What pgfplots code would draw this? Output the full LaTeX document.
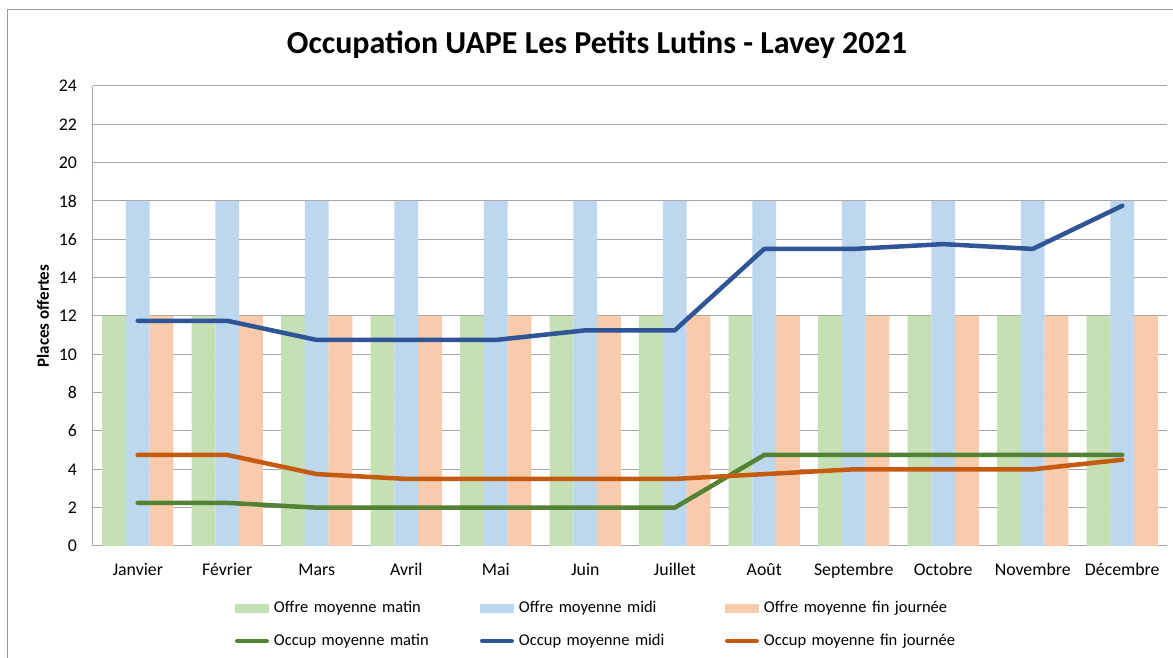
\documentclass[border=0pt]{standalone}
\usepackage{pgfplots}
\pgfplotsset{compat=1.18}
\usepackage{fontspec}
\setmainfont{Carlito}
\definecolor{OffMatin}{HTML}{C5E0B4}
\definecolor{OffMidi}{HTML}{BDD7EE}
\definecolor{OffFin}{HTML}{F8CBAD}
\definecolor{OccMatin}{HTML}{548235}
\definecolor{OccMidi}{HTML}{2F5597}
\definecolor{OccFin}{HTML}{C55A11}
\definecolor{GridGray}{HTML}{A6A6A6}
\definecolor{FrameGray}{HTML}{9A9A9A}
\pgfplotsset{
  barleg/.style={legend image code/.code={\path[##1] (0pt,-4.5pt) rectangle (34pt,4.5pt);}},
  lineleg/.style={legend image code/.code={\draw[##1] (2.25pt,0pt) -- (31.75pt,0pt);}},
  offre/.style={ybar, bar width=0.265, bar shift=#1, draw=none, barleg},
  occup/.style={line width=4.5pt, line cap=round, line join=round, mark=none, lineleg},
}

\begin{document}
\begin{tikzpicture}
  \useasboundingbox (-93pt,-112pt) rectangle (1080pt,546pt);
  \fill[white] (-93pt,-112pt) rectangle (1080pt,546pt);
  \draw[FrameGray, line width=1pt] (-85pt,-200pt) rectangle (1200pt,536pt);
  \begin{axis}[
    scale only axis,
    width=1074pt, height=460pt,
    xmin=-0.5, xmax=11.5,
    ymin=0, ymax=24,
    ytick={0,2,...,24},
    xtick={0,...,11},
    xticklabels={Janvier,Février,Mars,Avril,Mai,Juin,Juillet,Août,Septembre,Octobre,Novembre,Décembre},
    axis x line*=bottom, axis y line*=left,
    axis line style={GridGray, line width=1pt, -},
    ymajorgrids, grid style={GridGray, line width=1pt},
    major tick length=0pt,
    /pgf/number format/assume math mode=true,
    tick label style={font=\fontsize{17.8pt}{20pt}\selectfont, inner sep=0pt},
    yticklabel style={anchor=east, xshift=-16pt},
    xticklabel style={anchor=base, yshift=-30pt},
    every axis y label/.style={at={(axis description cs:0,0.5)}, xshift=-50pt,
      rotate=90, anchor=center, font=\fontsize{17pt}{20pt}\selectfont\bfseries},
    ylabel={Places offertes},
    legend columns=3,
    legend style={at={(rel axis cs:0.1322,-0.1174)}, anchor=north west,
      draw=none, inner sep=0pt, outer sep=0pt, row sep=17pt,
      font=\fontsize{16.5pt}{19pt}\selectfont,
      nodes={inner sep=0pt, text width=200pt, text height=12pt, text depth=4pt},
      /tikz/every odd column/.append style={column sep=5pt},
      /tikz/every even column/.append style={column sep=6pt}},
  ]
    % Offre (barres)
    \addplot[offre=-0.265, fill=OffMatin]
      coordinates {(0,12)(1,12)(2,12)(3,12)(4,12)(5,12)(6,12)(7,12)(8,12)(9,12)(10,12)(11,12)};
    \addplot[offre=0, fill=OffMidi]
      coordinates {(0,18)(1,18)(2,18)(3,18)(4,18)(5,18)(6,18)(7,18)(8,18)(9,18)(10,18)(11,18)};
    \addplot[offre=0.265, fill=OffFin]
      coordinates {(0,12)(1,12)(2,12)(3,12)(4,12)(5,12)(6,12)(7,12)(8,12)(9,12)(10,12)(11,12)};
    % Occupation (lignes)
    \addplot[occup, OccMatin]
      coordinates {(0,2.25)(1,2.25)(2,2)(3,2)(4,2)(5,2)(6,2)(7,4.75)(8,4.75)(9,4.75)(10,4.75)(11,4.75)};
    \addplot[occup, OccMidi]
      coordinates {(0,11.75)(1,11.75)(2,10.75)(3,10.75)(4,10.75)(5,11.25)(6,11.25)(7,15.5)(8,15.5)(9,15.75)(10,15.5)(11,17.75)};
    \addplot[occup, OccFin]
      coordinates {(0,4.75)(1,4.75)(2,3.75)(3,3.5)(4,3.5)(5,3.5)(6,3.5)(7,3.75)(8,4)(9,4)(10,4)(11,4.5)};
    \legend{Offre moyenne matin, Offre moyenne midi, Offre moyenne fin journée,
      Occup moyenne matin, Occup moyenne midi, Occup moyenne fin journée}
  \end{axis}
  \node[font=\fontsize{32pt}{36pt}\selectfont\bfseries] at (504pt,501pt)
    {Occupation UAPE Les Petits Lutins - Lavey 2021};
\end{tikzpicture}
\end{document}
